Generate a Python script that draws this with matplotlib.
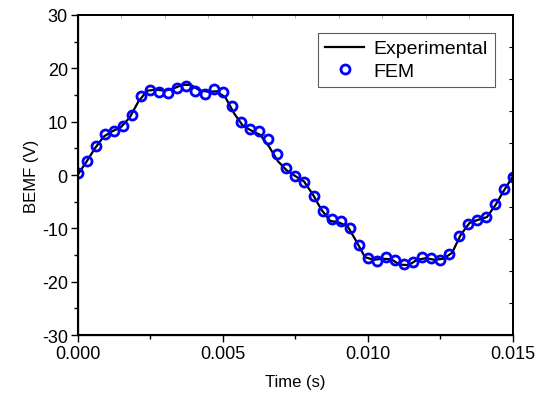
import matplotlib
matplotlib.use("Agg")
import matplotlib.pyplot as plt
from matplotlib.ticker import MultipleLocator

plt.rcParams['font.family'] = ['Liberation Sans', 'DejaVu Sans']
plt.rcParams['axes.unicode_minus'] = False

# FEM samples (s, V)
fem_t = [0.0, 0.00031, 0.00063, 0.00094, 0.00125, 0.00156, 0.00188, 0.00219,
         0.0025, 0.00281, 0.00313, 0.00344, 0.00375, 0.00406, 0.00438, 0.00469,
         0.005, 0.00531, 0.00563, 0.00594, 0.00625, 0.00656, 0.00688, 0.00719,
         0.0075, 0.00781, 0.00813, 0.00844, 0.00875, 0.00906, 0.00938, 0.00969,
         0.01, 0.01031, 0.01063, 0.01094, 0.01125, 0.01156, 0.01188, 0.01219,
         0.0125, 0.01281, 0.01313, 0.01344, 0.01375, 0.01406, 0.01438, 0.01469,
         0.015]
fem_v = [0.4, 2.6, 5.5, 7.7, 8.3, 9.1, 11.3, 14.8,
         16.0, 15.5, 15.3, 16.4, 16.6, 15.8, 15.2, 16.1,
         15.5, 13.0, 9.9, 8.6, 8.2, 6.8, 3.9, 1.3,
         -0.1, -1.4, -4.0, -6.8, -8.3, -8.7, -10.0, -13.1,
         -15.6, -16.1, -15.3, -15.9, -16.7, -16.4, -15.4, -15.6,
         -15.9, -14.8, -11.4, -9.2, -8.4, -7.8, -5.4, -2.6,
         -0.4]

# measured curve
exp_t = [0.0, 0.0003, 0.0006, 0.0009, 0.0012, 0.0015, 0.0018, 0.0021, 0.0024,
         0.0027, 0.003, 0.0033, 0.0036, 0.0039, 0.0042, 0.0045, 0.0048, 0.0051,
         0.0054, 0.0057, 0.006, 0.0063, 0.0066, 0.0069, 0.0072, 0.0075,
         0.0078, 0.0081, 0.0084, 0.0087, 0.009, 0.0093, 0.0096, 0.0099,
         0.0102, 0.0105, 0.0108, 0.0111, 0.0114, 0.0117, 0.012, 0.0123,
         0.0126, 0.0129, 0.0132, 0.0135, 0.0138, 0.0141, 0.0144, 0.0147, 0.015]
exp_v = [0.0, 2.4, 5.0, 7.2, 8.2, 9.0, 10.8, 13.8, 15.8,
         16.0, 15.8, 16.2, 16.9, 16.9, 15.9, 15.6, 15.7, 14.5,
         11.5, 9.2, 8.3, 7.5, 5.3, 2.6, 0.9, -0.2,
         -1.2, -3.6, -6.5, -8.6, -8.9, -9.6, -12.4, -15.4,
         -15.9, -15.7, -15.8, -16.8, -16.9, -15.9, -15.6, -15.9,
         -15.7, -14.6, -11.2, -9.0, -8.4, -7.9, -5.6, -2.8, -0.2]

fig = plt.figure(figsize=(5.39, 4.06), dpi=100)
ax = fig.add_axes([0.1438, 0.1724, 0.8080, 0.7882])

ax.plot(exp_t, exp_v, color='black', lw=1.6, label='Experimental', zorder=2)
ax.plot(fem_t, fem_v, 'o', mfc='none', mec='#0000ff', mew=2, ms=6.5,
        label='FEM', zorder=3)

ax.set_xlim(0, 0.015)
ax.set_ylim(-30, 30)
ax.xaxis.set_major_locator(MultipleLocator(0.005))
ax.xaxis.set_minor_locator(MultipleLocator(0.0025))
ax.yaxis.set_major_locator(MultipleLocator(10))
ax.yaxis.set_minor_locator(MultipleLocator(5))
ax.xaxis.set_major_formatter(plt.FormatStrFormatter('%.3f'))
ax.tick_params(which='major', direction='out', length=5, width=1, labelsize=13,
               pad=2)
ax.tick_params(which='minor', direction='out', length=3, width=1)
ax.tick_params(top=False, right=False)
for s in ['left', 'bottom']:
    ax.spines[s].set_linewidth(1.5)
for s in ['top', 'right']:
    ax.spines[s].set_linewidth(1.2)

# top / right axes carry their own faint ticks
axt = ax.twiny()
axt.set_xlim(0, 10)
axt.set_xticks(range(1, 10))
axt.tick_params(axis='x', direction='in', length=2, width=0.6, colors='#999999',
                labeltop=False)
axr = ax.twinx()
axr.set_ylim(0, 10)
axr.set_yticks(range(1, 10))
axr.tick_params(axis='y', direction='in', length=3, width=0.8, labelright=False)
for a in (axt, axr):
    a.spines['top'].set_linewidth(1.2)
    a.spines['right'].set_linewidth(1.2)

ax.set_xlabel('Time (s)', fontsize=12, labelpad=9)
ax.set_ylabel('BEMF (V)', fontsize=12, labelpad=2)

leg = ax.legend(loc='upper right', bbox_to_anchor=(0.958, 0.944), fontsize=14,
                frameon=True, fancybox=False, edgecolor='#333333',
                handlelength=2.0, handletextpad=0.5, borderpad=0.35,
                labelspacing=0.25, borderaxespad=0)
leg.get_frame().set_linewidth(0.8)
leg.set_zorder(10)

fig.savefig('out.png', dpi=100)
